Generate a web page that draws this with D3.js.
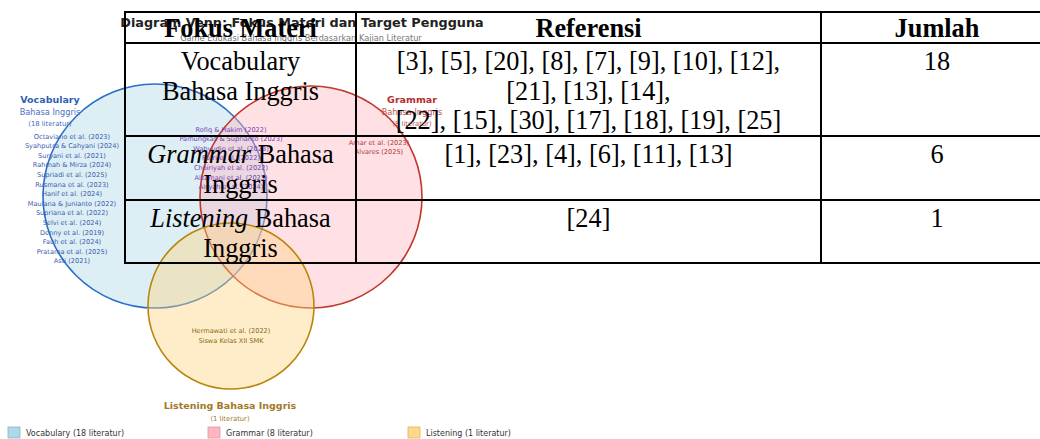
<!DOCTYPE html>
<html>
<head>
<meta charset="utf-8">
<script src="https://cdn.jsdelivr.net/npm/d3@7"></script>
<style>
  body { margin: 0; background: #fff; }
  svg { display: block; }
</style>
</head>
<body>
<div id="chart"></div>
<script>
// venn data
var title = "Diagram Venn: Fokus Materi dan Target Pengguna";
var subtitle = "Game Edukasi Bahasa Inggris Berdasarkan Kajian Literatur";
var setNames = ["Vocabulary", "Grammar", "Listening"];
var setCounts = [18, 8, 1];
var vocabOnly = ["Octaviano et al. (2023)", "Syahputra & Cahyani (2024)", "Suryani et al. (2021)",
  "Rahmah & Mirza (2024)", "Supriadi et al. (2025)", "Rusmana et al. (2023)", "Hanif et al. (2024)",
  "Maulana & Junianto (2022)", "Supriana et al. (2022)", "Selvi et al. (2024)", "Denny et al. (2019)",
  "Fauh et al. (2024)", "Pratama et al. (2025)", "Asti (2021)"];
var vocabGrammar = ["Rofiq & Hakim (2022)", "Pamungkas & Suprianto (2023)", "Wahyudin et al. (2023)",
  "Putri et al. (2022)", "Choiriyah et al. (2022)", "Alzamani et al. (2023)", "Aisyah et al. (2024)"];
var grammarOnly = ["Amar et al. (2023)", "Alvares (2025)"];
var listeningOnly = ["Hermawati et al. (2022)", "Siswa Kelas XII SMK"];

// table data
var tableHeaders = ["Fokus Materi", "Referensi", "Jumlah"];
var tableFocus = [
  [[{t: "Vocabulary"}], [{t: "Bahasa Inggris"}]],
  [[{t: "Grammar", i: true}, {t: " Bahasa"}], [{t: "Inggris"}]],
  [[{t: "Listening", i: true}, {t: " Bahasa"}], [{t: "Inggris"}]]
];
var tableRefs = [
  ["[3], [5], [20], [8], [7], [9], [10], [12],", "[21], [13], [14],", "[22], [15], [30], [17], [18], [19], [25]"],
  ["[1], [23], [4], [6], [11], [13]"],
  ["[24]"]
];
var tableCounts = [18, 6, 1];

var W = 1040, H = 439;
var svg = d3.select("#chart").append("svg").attr("width", W).attr("height", H);

var sans = "DejaVu Sans, sans-serif";
var serif = "Liberation Serif, Times New Roman, serif";

// ---- venn part ----
var circles = [
  {cx: 155, cy: 196, r: 112, fill: "#add8e6", stroke: "#2a6fc9"},
  {cx: 311, cy: 197, r: 111, fill: "#ffb6c1", stroke: "#c0392b"},
  {cx: 231, cy: 306, r: 83, fill: "#ffd580", stroke: "#b8860b"}
];
var venn = svg.append("g").attr("class", "venn");

venn.append("text").attr("x", 302).attr("y", 27).attr("text-anchor", "middle")
  .attr("font-family", sans).attr("font-weight", "bold").attr("font-size", 12.8)
  .attr("fill", "#222").text(title);
venn.append("text").attr("x", 301).attr("y", 41).attr("text-anchor", "middle")
  .attr("font-family", sans).attr("font-size", 8.2)
  .attr("fill", "#777").text(subtitle);

venn.selectAll("circle").data(circles).join("circle")
  .attr("cx", function(d){ return d.cx; })
  .attr("cy", function(d){ return d.cy; })
  .attr("r", function(d){ return d.r; })
  .attr("fill", function(d){ return d.fill; })
  .attr("fill-opacity", 0.42)
  .attr("stroke", function(d){ return d.stroke; })
  .attr("stroke-width", 1.6);

function nameList(names, x, y0, color){
  venn.append("g").selectAll("text").data(names).join("text")
    .attr("x", x)
    .attr("y", function(d, i){ return y0 + i * 9.6; })
    .attr("text-anchor", "middle")
    .attr("font-family", sans).attr("font-size", 6.6)
    .attr("fill", color)
    .text(function(d){ return d; });
}
nameList(vocabOnly, 72, 138.5, "#3b5db0");
nameList(vocabGrammar, 231, 131.5, "#7a3fb5");
nameList(grammarOnly, 379, 144.5, "#b03a3a");
nameList(listeningOnly, 231, 333, "#8b6914");

function setLabel(x, y, name, count, c1, c2, sub){
  venn.append("text").attr("x", x).attr("y", y).attr("text-anchor", "middle")
    .attr("font-family", sans).attr("font-weight", "bold").attr("font-size", 9.5)
    .attr("fill", c1).text(name);
  var yy = y;
  if(sub){
    yy += 12.5;
    venn.append("text").attr("x", x).attr("y", yy).attr("text-anchor", "middle")
      .attr("font-family", sans).attr("font-size", 8.2)
      .attr("fill", c2).text(sub);
  }
  venn.append("text").attr("x", x).attr("y", yy + (sub ? 11 : 12.5)).attr("text-anchor", "middle")
    .attr("font-family", sans).attr("font-size", 6.8)
    .attr("fill", c2).text("(" + count + " literatur)");
}
setLabel(50, 102.5, setNames[0], setCounts[0], "#2f5fb3", "#4a6fc4", "Bahasa Inggris");
setLabel(412, 102.5, setNames[1], setCounts[1], "#b22d2d", "#c45050", "Bahasa Inggris");
setLabel(230, 408.5, setNames[2] + " Bahasa Inggris", setCounts[2], "#a07a28", "#a07a28", null);

// legend
var legendFill = ["#add8e6", "#ffb6c1", "#ffd98a"];
var legendStroke = ["#8fb6c4", "#d99aa5", "#d9b45f"];
var lg = venn.append("g").selectAll("g").data(setNames).join("g")
  .attr("transform", function(d, i){ return "translate(" + (8 + i * 200) + ",427)"; });
lg.append("rect").attr("width", 12).attr("height", 11)
  .attr("fill", function(d, i){ return legendFill[i]; })
  .attr("stroke", function(d, i){ return legendStroke[i]; })
  .attr("stroke-width", 0.8);
lg.append("text").attr("x", 18).attr("y", 9)
  .attr("font-family", sans).attr("font-size", 8)
  .attr("fill", "#333")
  .text(function(d, i){ return d + " (" + setCounts[i] + " literatur)"; });

// ---- table part (drawn on top) ----
var colEdges = [125, 356, 821, 1053];
var rowEdges = [12, 43, 136, 200, 263];
var lineH = 29.5, fs = 26.3;
var tbl = svg.append("g").attr("class", "table");

var colCenter = function(c){ return (colEdges[c] + colEdges[c + 1]) / 2; };

tbl.selectAll("text.head").data(tableHeaders).join("text")
  .attr("class", "head")
  .attr("x", function(d, i){ return colCenter(i); })
  .attr("y", rowEdges[0] + 24.5)
  .attr("text-anchor", "middle")
  .attr("font-family", serif).attr("font-weight", "bold").attr("font-size", fs)
  .text(function(d){ return d; });

tableFocus.forEach(function(lines, r){
  lines.forEach(function(parts, li){
    var t = tbl.append("text")
      .attr("x", colCenter(0))
      .attr("y", rowEdges[r + 1] + 27 + li * lineH)
      .attr("text-anchor", "middle")
      .attr("font-family", serif).attr("font-size", fs);
    t.selectAll("tspan").data(parts).join("tspan")
      .attr("font-style", function(d){ return d.i ? "italic" : null; })
      .text(function(d){ return d.t; });
  });
});

tableRefs.forEach(function(lines, r){
  tbl.append("g").selectAll("text").data(lines).join("text")
    .attr("x", colCenter(1))
    .attr("y", function(d, li){ return rowEdges[r + 1] + 27 + li * lineH; })
    .attr("text-anchor", "middle")
    .attr("font-family", serif).attr("font-size", fs)
    .text(function(d){ return d; });
});

tbl.selectAll("text.count").data(tableCounts).join("text")
  .attr("class", "count")
  .attr("x", colCenter(2))
  .attr("y", function(d, r){ return rowEdges[r + 1] + 27; })
  .attr("text-anchor", "middle")
  .attr("font-family", serif).attr("font-size", fs)
  .text(function(d){ return d; });

tbl.selectAll("line.h").data(rowEdges).join("line")
  .attr("class", "h")
  .attr("x1", colEdges[0] - 1).attr("x2", colEdges[colEdges.length - 1] + 1)
  .attr("y1", function(d){ return d; }).attr("y2", function(d){ return d; })
  .attr("stroke", "#000").attr("stroke-width", 2);
tbl.selectAll("line.v").data(colEdges).join("line")
  .attr("class", "v")
  .attr("y1", rowEdges[0]).attr("y2", rowEdges[rowEdges.length - 1])
  .attr("x1", function(d){ return d; }).attr("x2", function(d){ return d; })
  .attr("stroke", "#000").attr("stroke-width", 2);
</script>
</body>
</html>
